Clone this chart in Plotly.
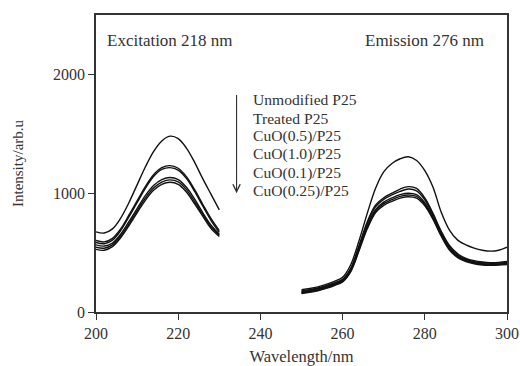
import plotly.graph_objects as go

# Excitation spectra (monitored at 276 nm emission)
ex_wl = [200, 202, 204, 206, 208, 210, 212, 214, 216, 218, 220, 222, 224, 226, 228, 230]
ex_unmod = [675, 665, 700, 790, 920, 1070, 1220, 1350, 1440, 1480, 1460, 1380, 1260, 1120, 990, 860]
ex_treated = [602, 590, 620, 700, 815, 935, 1055, 1155, 1215, 1232, 1210, 1140, 1030, 905, 785, 685]
ex_cuo05 = [585, 575, 605, 685, 800, 920, 1040, 1140, 1200, 1215, 1195, 1125, 1015, 890, 770, 670]
ex_cuo10 = [565, 555, 580, 655, 760, 870, 980, 1065, 1115, 1132, 1115, 1050, 950, 835, 730, 655]
ex_cuo01 = [545, 537, 565, 640, 742, 852, 958, 1043, 1093, 1112, 1095, 1030, 928, 820, 715, 645]
ex_cuo025 = [527, 520, 550, 625, 726, 835, 940, 1024, 1074, 1092, 1075, 1010, 910, 805, 702, 635]

# Emission spectra (excited at 218 nm)
em_wl = [250, 252, 254, 256, 258, 260, 262, 264, 266, 268, 270, 272, 274, 276, 278, 280,
         282, 284, 286, 288, 290, 292, 294, 296, 298, 300]
em_unmod = [188, 198, 212, 232, 258, 292, 400, 600, 830, 1040, 1180, 1250, 1290, 1307, 1275, 1190,
            1050, 840, 690, 605, 565, 538, 520, 512, 520, 545]
em_treated = [178, 188, 202, 222, 246, 276, 370, 560, 760, 900, 962, 1000, 1035, 1055, 1040, 960,
              830, 680, 560, 490, 452, 432, 421, 416, 418, 425]
em_cuo05 = [172, 182, 196, 216, 240, 270, 362, 548, 745, 885, 948, 985, 1015, 1035, 1020, 945,
            818, 670, 550, 482, 444, 424, 414, 410, 412, 418]
em_cuo10 = [166, 176, 190, 210, 234, 264, 355, 535, 725, 862, 925, 960, 988, 1000, 988, 920,
            800, 655, 538, 472, 436, 417, 407, 403, 405, 410]
em_cuo01 = [160, 170, 184, 204, 228, 258, 348, 525, 712, 848, 912, 946, 973, 985, 973, 907,
            790, 646, 530, 465, 430, 411, 401, 398, 400, 405]
em_cuo025 = [155, 165, 179, 199, 223, 253, 340, 515, 700, 835, 898, 932, 958, 970, 958, 894,
             780, 638, 522, 458, 424, 406, 396, 393, 395, 400]

sample_labels = ["Unmodified P25", "Treated P25", "CuO(0.5)/P25",
                 "CuO(1.0)/P25", "CuO(0.1)/P25", "CuO(0.25)/P25"]
x_ticks = [200, 220, 240, 260, 280, 300]
y_ticks = [0, 1000, 2000]

ex_sets = [ex_unmod, ex_treated, ex_cuo05, ex_cuo10, ex_cuo01, ex_cuo025]
em_sets = [em_unmod, em_treated, em_cuo05, em_cuo10, em_cuo01, em_cuo025]

FONT = "Liberation Serif"
TXT = "#333333"

fig = go.Figure()
for name, ys in zip(sample_labels, ex_sets):
    fig.add_trace(go.Scatter(x=ex_wl, y=ys, mode="lines", name=name,
                             line=dict(color="#111111", width=1.4, shape="spline"),
                             showlegend=False, hoverinfo="skip"))
for name, ys in zip(sample_labels, em_sets):
    fig.add_trace(go.Scatter(x=em_wl, y=ys, mode="lines", name=name,
                             line=dict(color="#111111", width=1.4, shape="spline"),
                             showlegend=False, hoverinfo="skip"))

axis_common = dict(showline=True, linecolor="#333333", linewidth=1.5, mirror=True,
                   ticks="outside", ticklen=6, tickwidth=1.2, tickcolor="#333333",
                   showgrid=False, zeroline=False, automargin=False,
                   tickfont=dict(family=FONT, size=16, color=TXT))

fig.update_layout(
    width=520, height=366,
    margin=dict(l=96, r=13, t=15, b=54),
    paper_bgcolor="white", plot_bgcolor="white",
    font=dict(family=FONT, color=TXT),
    xaxis=dict(range=[200, 300], tickvals=x_ticks,
               title=dict(text="Wavelength/nm", font=dict(family=FONT, size=16.5, color=TXT),
                          standoff=11),
               **axis_common),
    yaxis=dict(range=[0, 2500], tickvals=y_ticks,
               title=dict(text="Intensity/arb.u", font=dict(family=FONT, size=15, color=TXT),
                          standoff=26),
               **axis_common),
)

fig.add_annotation(x=0.022, y=0.915, xref="paper", yref="paper", xanchor="left", yanchor="middle",
                   text="Excitation 218 nm", showarrow=False,
                   font=dict(family=FONT, size=17, color=TXT))
fig.add_annotation(x=0.949, y=0.915, xref="paper", yref="paper", xanchor="right", yanchor="middle",
                   text="Emission 276 nm", showarrow=False,
                   font=dict(family=FONT, size=17, color=TXT))

legend_y0 = 1785
for i, lab in enumerate(sample_labels):
    fig.add_annotation(x=237.6, y=legend_y0 - i * 153, xref="x", yref="y",
                       xanchor="left", yanchor="middle", text=lab, showarrow=False,
                       font=dict(family=FONT, size=15.6, color=TXT))

fig.add_annotation(x=234.2, y=1000, ax=234.2, ay=1840, xref="x", yref="y",
                   axref="x", ayref="y", showarrow=True, arrowhead=5, arrowsize=1.3,
                   arrowwidth=1.1, arrowcolor="#333333", text="")

fig.write_html("out.html",
               config={"displayModeBar": False},
               post_script="document.body.style.margin='0';document.body.style.overflow='hidden';")
